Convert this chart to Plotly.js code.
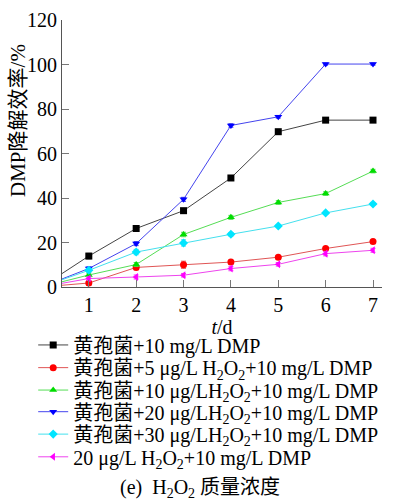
<!DOCTYPE html>
<html><head><meta charset="utf-8">
<script src="https://cdn.plot.ly/plotly-3.0.1.min.js"></script>
<style>html,body{margin:0;padding:0;background:#fff;}#chart{width:403px;height:503px;}</style>
</head><body><div id="chart"></div>
<script>
const days = [0, 1, 2, 3, 4, 5, 6, 7];
const seriesNames = [
  '黄孢菌+10 mg/L DMP',
  '黄孢菌+5 μg/L H<sub>2</sub>O<sub>2</sub>+10 mg/L DMP',
  '黄孢菌+10 μg/LH<sub>2</sub>O<sub>2</sub>+10 mg/L DMP',
  '黄孢菌+20 μg/LH<sub>2</sub>O<sub>2</sub>+10 mg/L DMP',
  '黄孢菌+30 μg/LH<sub>2</sub>O<sub>2</sub>+10 mg/L DMP',
  '20 μg/L H<sub>2</sub>O<sub>2</sub>+10 mg/L DMP'
];
const fungusDMP   = [0, 13.9, 26.3, 34.3, 49.0, 69.8, 75.0, 75.0];
const h2o2_5      = [0, 1.8, 8.8, 10.0, 11.2, 13.4, 17.3, 20.4];
const h2o2_10     = [0, 5.4, 10.1, 23.6, 31.3, 38.0, 42.0, 52.1];
const h2o2_20     = [0, 8.3, 19.5, 39.4, 72.6, 76.5, 100.2, 100.2];
const h2o2_30     = [0, 7.5, 15.7, 19.8, 23.7, 27.4, 33.3, 37.3];
const h2o2Only    = [0, 3.8, 4.5, 5.3, 8.3, 10.2, 15.0, 16.5];
const errFungus   = [0, 1.2, 1.3, 0.8, 0.6, 0.6, 0.5, 0.5];
const err5        = [0, 1.0, 1.0, 1.6, 0.8, 0.7, 0.8, 0.6];
const err10       = [0, 0.8, 0.9, 1.0, 0.9, 0.8, 0.8, 0.8];
const err20       = [0, 0.8, 0.9, 0.9, 0.8, 0.6, 0.5, 0.5];
const err30       = [0, 0.9, 1.2, 1.4, 0.8, 0.7, 0.7, 0.6];
const errOnly     = [0, 0.8, 0.9, 0.8, 1.0, 0.8, 1.0, 0.9];

const values = [fungusDMP, h2o2_5, h2o2_10, h2o2_20, h2o2_30, h2o2Only];
const errs = [errFungus, err5, err10, err20, err30, errOnly];
const markerColors = ['#000000', '#ff0000', '#00dd00', '#0000ff', '#00e5ff', '#ff00ff'];
const lineColors = ['#444444', '#e05555', '#55dd55', '#4444ee', '#44e0ee', '#ee44ee'];
const symbols = ['square', 'circle', 'triangle-up', 'triangle-down', 'diamond', 'triangle-left'];
const legendIds = ['legend', 'legend2', 'legend3', 'legend4', 'legend5', 'legend6'];

const traces = values.map((v, i) => ({
  x: days, y: v, name: seriesNames[i], type: 'scatter', mode: 'lines+markers',
  legend: legendIds[i],
  line: {color: lineColors[i], width: 1},
  marker: {color: markerColors[i], symbol: symbols[i], size: 7},
  error_y: {type: 'data', array: errs[i], visible: true, color: lineColors[i], thickness: 1, width: 2.5},
  cliponaxis: true
}));

const serif = '"Liberation Serif", "Times New Roman", "Noto Sans CJK SC", serif';
const rowCenters = [-0.217, -0.302, -0.386, -0.467, -0.551, -0.636];

const layout = {
  width: 403, height: 503,
  margin: {l: 62, r: 21, t: 20, b: 216},
  paper_bgcolor: '#fff', plot_bgcolor: '#fff',
  font: {family: serif, color: '#000', size: 20},
  showlegend: true,
  xaxis: {
    range: [0.434, 7.19], tickvals: [1, 2, 3, 4, 5, 6, 7], ticktext: ['1','2','3','4','5','6','7'],
    ticks: 'inside', ticklen: 7, tickcolor: '#777', showline: true, linecolor: '#555', linewidth: 1,
    showgrid: false, zeroline: false, tickfont: {size: 20, family: serif},
    title: {text: '<i>t</i>/d', font: {size: 20, family: serif}, standoff: 0}
  },
  yaxis: {
    range: [0, 120], tickvals: [0, 20, 40, 60, 80, 100, 120],
    ticks: 'inside', ticklen: 7, tickcolor: '#777', showline: true, linecolor: '#555', linewidth: 1,
    showgrid: false, zeroline: false, tickfont: {size: 20, family: serif}, ticklabelstandoff: 0
  },
  annotations: [
    {text: 'DMP降解效率/%', xref: 'paper', yref: 'paper', x: -0.138, y: 0.625, xanchor: 'center', yanchor: 'middle',
     textangle: -90, showarrow: false, font: {size: 21, family: serif}},
    {text: '(e)  H<sub>2</sub>O<sub>2</sub> 质量浓度', xref: 'paper', yref: 'paper', x: 0.43, y: -0.755, xanchor: 'center', yanchor: 'middle',
     showarrow: false, font: {size: 20, family: serif}}
  ]
};
legendIds.forEach((id, i) => {
  layout[id] = {x: -0.09, y: rowCenters[i], xanchor: 'left', yanchor: 'middle',
    font: {family: serif, size: 20}, bgcolor: 'rgba(0,0,0,0)', borderwidth: 0};
});
Plotly.newPlot('chart', traces, layout, {displayModeBar: false, staticPlot: true});
</script></body></html>
